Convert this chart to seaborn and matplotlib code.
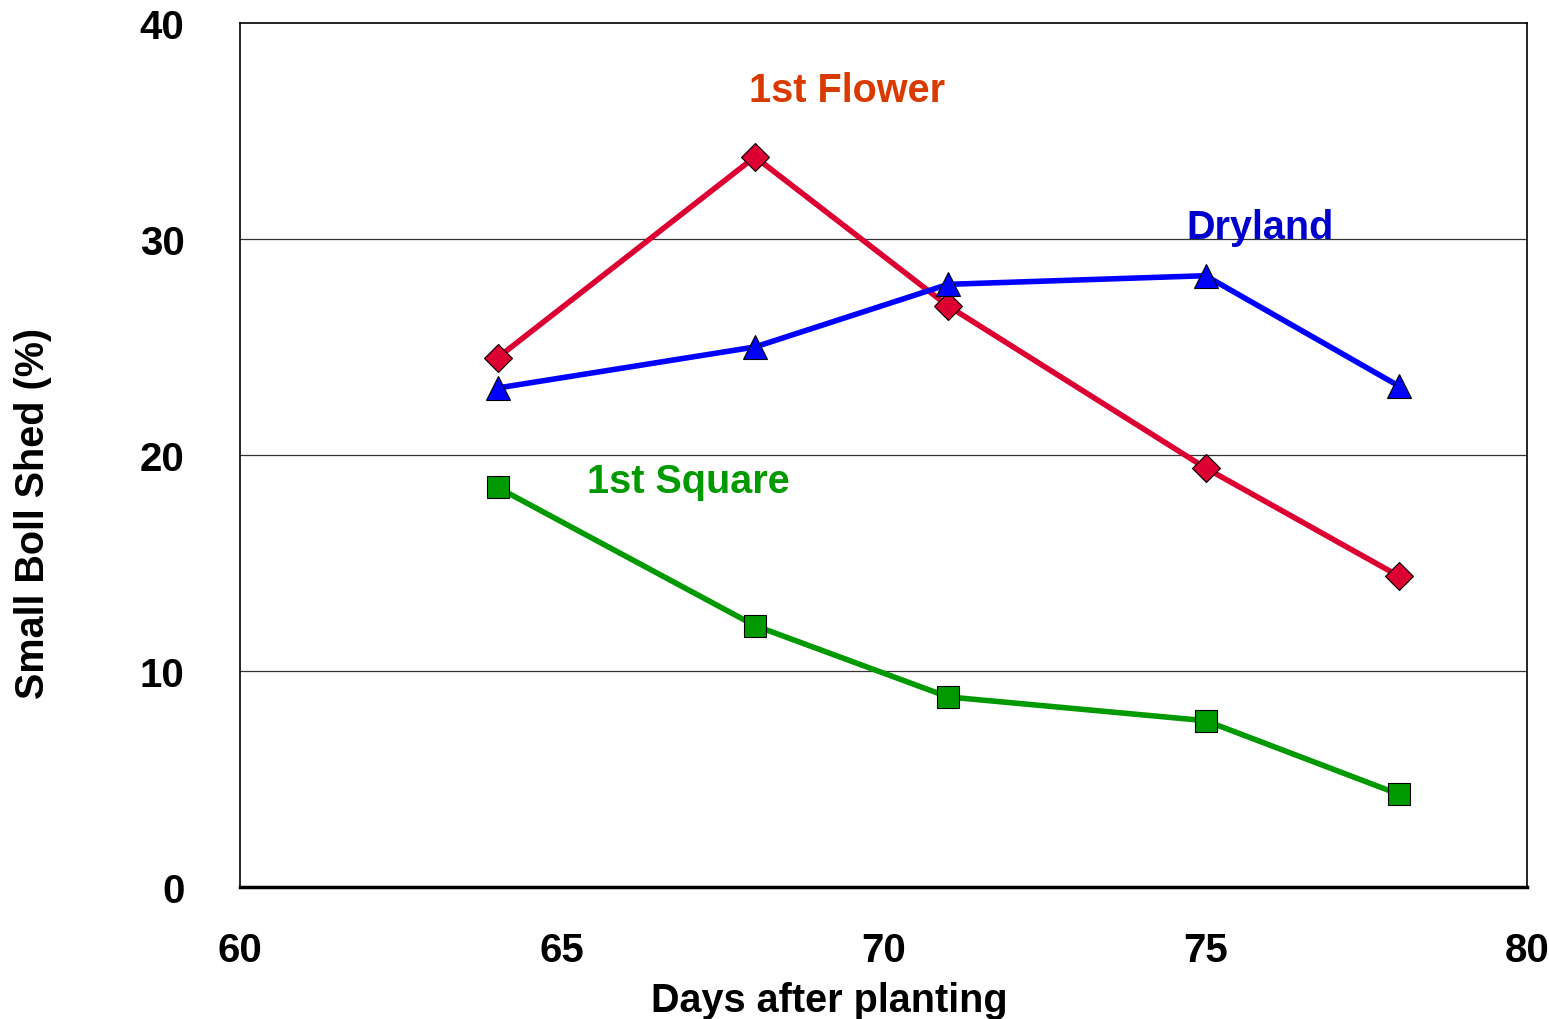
import pandas as pd
import matplotlib.pyplot as plt
import seaborn as sns

# datos
dias = [64, 68, 71, 75, 78]
flor = [24.5, 33.8, 26.9, 19.4, 14.4]
secano = [23.1, 25.0, 27.9, 28.3, 23.2]
cuadro = [18.5, 12.1, 8.8, 7.7, 4.3]

series = ["1st Flower", "Dryland", "1st Square"]
df = pd.DataFrame({
    "dia": dias * 3,
    "valor": flor + secano + cuadro,
    "serie": [s for s in series for _ in dias],
})

sns.set_style("white")
plt.rcParams['font.family'] = ['Liberation Sans', 'DejaVu Sans']
plt.rcParams['font.weight'] = 'bold'
plt.rcParams['text.color'] = 'black'
plt.rcParams['axes.labelcolor'] = 'black'
plt.rcParams['xtick.color'] = 'black'
plt.rcParams['ytick.color'] = 'black'

fig = plt.figure(figsize=(15.49, 10.20), dpi=100)
ax = fig.add_axes([0.155, 0.1294, 0.831, 0.8471])

colores = {"1st Flower": "#DC0032", "Dryland": "#0000FF", "1st Square": "#009900"}
marcas = {"1st Flower": "D", "Dryland": "^", "1st Square": "s"}
tamanos = {"1st Flower": 14, "Dryland": 17, "1st Square": 16}

for s in series:
    sub = df[df["serie"] == s]
    sns.lineplot(data=sub, x="dia", y="valor", color=colores[s], marker=marcas[s],
                 markersize=tamanos[s], markeredgecolor="black", markeredgewidth=0.8,
                 linewidth=4, ax=ax, zorder=3)

ax.set_xlim(60, 80)
ax.set_ylim(0, 40)
ax.set_xticks([60, 65, 70, 75, 80])
ax.set_yticks([0, 10, 20, 30, 40])
ax.tick_params(axis='both', length=0, labelsize=29)
ax.tick_params(axis='y', pad=40)
ax.tick_params(axis='x', pad=32)
for lab in ax.get_xticklabels() + ax.get_yticklabels():
    lab.set_fontweight('bold')

for y in [10, 20, 30]:
    ax.axhline(y, color="#333333", linewidth=0.9, zorder=1)

for sp in ax.spines.values():
    sp.set_color("black")
    sp.set_linewidth(1.2)
ax.spines['bottom'].set_linewidth(2.5)

ax.set_xlabel("Days after planting", fontsize=28.5, fontweight='bold')
ax.set_ylabel("Small Boll Shed (%)", fontsize=28.5, fontweight='bold')
ax.xaxis.set_label_coords(0.458, -0.109)
ax.yaxis.set_label_coords(-0.146, 0.433)

ax.text(69.43, 36.9, "1st Flower", color="#D83A00", fontsize=28.5, fontweight='bold', ha='center', va='center')
ax.text(75.85, 30.55, "Dryland", color="#0000CC", fontsize=28.5, fontweight='bold', ha='center', va='center')
ax.text(66.96, 18.8, "1st Square", color="#009900", fontsize=28.5, fontweight='bold', ha='center', va='center')

fig.savefig("out.png", dpi=100)
